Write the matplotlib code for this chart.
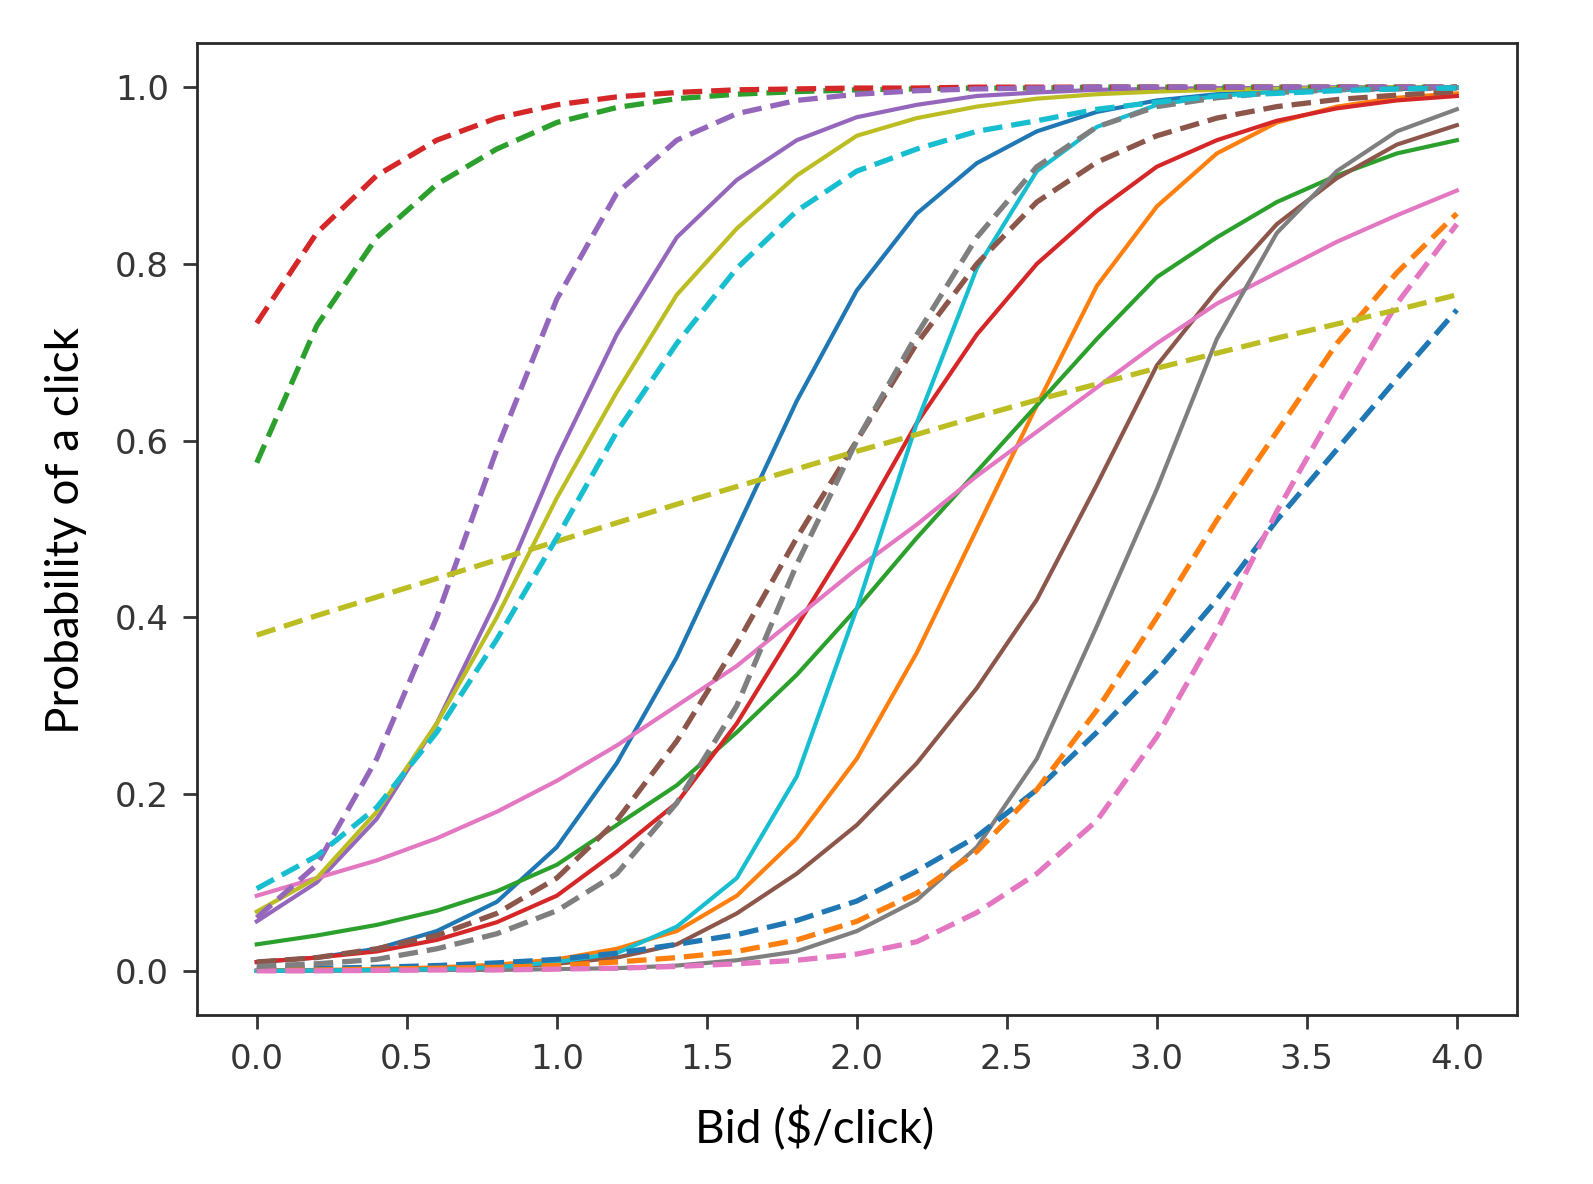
import matplotlib
matplotlib.use('Agg')
import matplotlib.pyplot as plt
import numpy as np

# bids at which each click curve was evaluated
bids = [0.0, 0.2, 0.4, 0.6, 0.8, 1.0, 1.2, 1.4, 1.6, 1.8, 2.0,
        2.2, 2.4, 2.6, 2.8, 3.0, 3.2, 3.4, 3.6, 3.8, 4.0]

# solid curves (colour cycle C0..C9)
solid_blue = [0.01, 0.015, 0.025, 0.045, 0.078, 0.14, 0.235, 0.355, 0.50, 0.645, 0.77,
              0.857, 0.914, 0.95, 0.972, 0.985, 0.992, 0.995, 0.997, 0.998, 0.999]
solid_orange = [0.0005, 0.001, 0.002, 0.004, 0.007, 0.013, 0.025, 0.045, 0.085, 0.15, 0.24,
                0.36, 0.50, 0.64, 0.775, 0.865, 0.925, 0.96, 0.978, 0.988, 0.993]
solid_green = [0.03, 0.04, 0.052, 0.068, 0.09, 0.12, 0.165, 0.21, 0.27, 0.335, 0.41,
               0.49, 0.565, 0.64, 0.715, 0.785, 0.83, 0.87, 0.90, 0.925, 0.94]
solid_red = [0.01, 0.015, 0.022, 0.035, 0.055, 0.085, 0.135, 0.19, 0.28, 0.39, 0.50,
             0.62, 0.72, 0.80, 0.86, 0.91, 0.94, 0.962, 0.976, 0.985, 0.99]
solid_purple = [0.056, 0.10, 0.172, 0.28, 0.42, 0.58, 0.72, 0.83, 0.895, 0.94, 0.966,
                0.98, 0.99, 0.994, 0.997, 0.998, 0.999, 0.999, 1.0, 1.0, 1.0]
solid_brown = [0.0, 0.0005, 0.001, 0.002, 0.004, 0.008, 0.015, 0.03, 0.065, 0.11, 0.165,
               0.235, 0.32, 0.42, 0.55, 0.685, 0.77, 0.845, 0.897, 0.935, 0.957]
solid_pink = [0.085, 0.105, 0.125, 0.15, 0.18, 0.215, 0.255, 0.30, 0.345, 0.40, 0.455,
              0.505, 0.56, 0.61, 0.66, 0.71, 0.755, 0.79, 0.825, 0.855, 0.883]
solid_gray = [0.0, 0.0, 0.0005, 0.001, 0.001, 0.002, 0.003, 0.006, 0.012, 0.022, 0.045,
              0.08, 0.14, 0.24, 0.39, 0.545, 0.715, 0.835, 0.905, 0.95, 0.975]
solid_olive = [0.067, 0.105, 0.18, 0.28, 0.40, 0.535, 0.655, 0.765, 0.84, 0.90, 0.945,
               0.965, 0.978, 0.987, 0.992, 0.995, 0.997, 0.998, 0.999, 1.0, 1.0]
solid_cyan = [0.0, 0.0005, 0.001, 0.002, 0.004, 0.01, 0.02, 0.05, 0.105, 0.22, 0.41,
              0.62, 0.795, 0.905, 0.955, 0.98, 0.99, 0.995, 0.998, 0.999, 1.0]

# dashed curves (same colour cycle again)
dash_blue = [0.002, 0.003, 0.004, 0.006, 0.009, 0.013, 0.02, 0.03, 0.041, 0.057, 0.079,
             0.113, 0.152, 0.205, 0.27, 0.34, 0.42, 0.51, 0.59, 0.67, 0.748]
dash_orange = [0.001, 0.001, 0.002, 0.003, 0.004, 0.006, 0.01, 0.015, 0.022, 0.035, 0.056,
               0.088, 0.135, 0.205, 0.295, 0.40, 0.51, 0.61, 0.71, 0.79, 0.857]
dash_green = [0.575, 0.73, 0.83, 0.89, 0.93, 0.96, 0.977, 0.987, 0.992, 0.995, 0.997,
              0.998, 0.999, 0.999, 1.0, 1.0, 1.0, 1.0, 1.0, 1.0, 1.0]
dash_red = [0.733, 0.835, 0.90, 0.94, 0.965, 0.98, 0.989, 0.994, 0.997, 0.998, 0.999,
            0.999, 1.0, 1.0, 1.0, 1.0, 1.0, 1.0, 1.0, 1.0, 1.0]
dash_purple = [0.06, 0.12, 0.24, 0.40, 0.59, 0.76, 0.88, 0.94, 0.97, 0.985, 0.992,
               0.996, 0.998, 0.999, 1.0, 1.0, 1.0, 1.0, 1.0, 1.0, 1.0]
dash_brown = [0.01, 0.015, 0.025, 0.04, 0.065, 0.105, 0.17, 0.26, 0.37, 0.49, 0.60,
              0.71, 0.80, 0.87, 0.915, 0.945, 0.965, 0.978, 0.986, 0.991, 0.995]
dash_pink = [0.0, 0.0, 0.0005, 0.001, 0.001, 0.002, 0.003, 0.005, 0.008, 0.012, 0.019,
             0.033, 0.066, 0.11, 0.17, 0.265, 0.385, 0.52, 0.64, 0.755, 0.845]
dash_gray = [0.005, 0.008, 0.013, 0.025, 0.042, 0.068, 0.11, 0.19, 0.30, 0.46, 0.60,
             0.72, 0.83, 0.91, 0.955, 0.978, 0.988, 0.994, 0.997, 0.998, 0.999]
dash_olive = [0.38, 0.402, 0.423, 0.444, 0.465, 0.486, 0.507, 0.528, 0.548, 0.568, 0.588,
              0.607, 0.627, 0.646, 0.664, 0.682, 0.699, 0.716, 0.732, 0.748, 0.765]
dash_cyan = [0.093, 0.13, 0.185, 0.27, 0.375, 0.49, 0.61, 0.71, 0.795, 0.86, 0.905,
             0.93, 0.95, 0.962, 0.975, 0.983, 0.99, 0.993, 0.996, 0.998, 0.999]

solid_curves = [solid_blue, solid_orange, solid_green, solid_red, solid_purple,
                solid_brown, solid_pink, solid_gray, solid_olive, solid_cyan]
dashed_curves = [dash_blue, dash_orange, dash_green, dash_red, dash_purple,
                 dash_brown, dash_pink, dash_gray, dash_olive, dash_cyan]
colors = ['C%d' % i for i in range(10)]

fig = plt.figure(figsize=(15.93, 11.84), dpi=100)
ax = fig.add_axes([0.1235, 0.1427, 0.8287, 0.8210])

for ys, c in zip(solid_curves, colors):
    ax.plot(bids, ys, color=c, lw=3.0)
for ys, c in zip(dashed_curves, colors):
    ax.plot(bids, ys, color=c, lw=3.8, ls=(0, (3.7, 1.7)))

ax.set_xticks(np.arange(0, 4.01, 0.5))
ax.set_yticks(np.arange(0, 1.01, 0.2))
ax.tick_params(labelsize=24.5, labelcolor='#363636', color='#363636',
               length=10, width=2, pad=10)
for sp in ax.spines.values():
    sp.set_linewidth(2)
    sp.set_color('#2a2a2a')

# axis titles were placed by hand in the original, slightly off-centre
fig.text(0.5115, 0.047, 'Bid ($/click)', fontsize=33, family='Lato',
         ha='center', va='center')
fig.text(0.0415, 0.552, 'Probability of a click', fontsize=33, family='Lato',
         ha='center', va='center', rotation=90)

fig.savefig('out.png', dpi=100)
